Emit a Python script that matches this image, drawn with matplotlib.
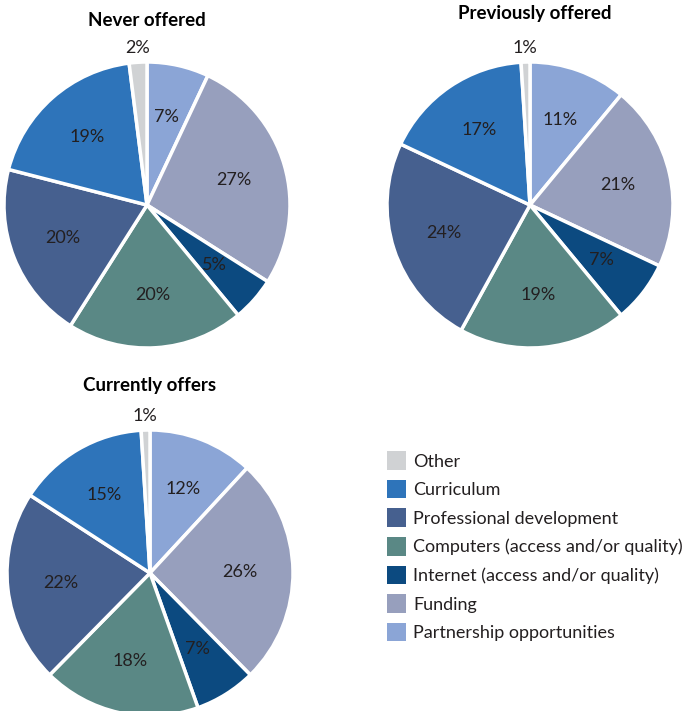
import matplotlib.pyplot as plt
import matplotlib.patches as mpatches
import numpy as np

# clockwise from 12 o'clock
categories = ['Partnership opportunities', 'Funding', 'Internet (access and/or quality)',
              'Computers (access and/or quality)', 'Professional development', 'Curriculum', 'Other']
colors = ['#8ba5d6', '#979fbd', '#0c4a80', '#5a8885', '#46608f', '#2e74ba', '#d0d2d4']

never_offered = [7, 27, 5, 20, 20, 19, 2]
previously_offered = [11, 21, 7, 19, 24, 17, 1]
currently_offers = [12, 26, 7, 18, 22, 15, 1]

legend_order = ['Other', 'Curriculum', 'Professional development',
                'Computers (access and/or quality)', 'Internet (access and/or quality)',
                'Funding', 'Partnership opportunities']

plt.rcParams['font.family'] = ['Lato', 'DejaVu Sans']

W, H = 686, 711
fig = plt.figure(figsize=(W / 100, H / 100), dpi=100)
ax = fig.add_axes([0, 0, 1, 1])

R = 143


def draw_pie(vals, cx, cy, title, tx, ty):
    wedges, _ = ax.pie(vals, colors=colors, startangle=90, counterclock=False,
                       center=(cx, H - cy), radius=R, frame=True,
                       wedgeprops=dict(edgecolor='white', linewidth=2.5))
    for w, v in zip(wedges, vals):
        ang = np.deg2rad((w.theta1 + w.theta2) / 2)
        d = 0.63 * R if v > 2 else 1.1 * R
        ax.text(cx + d * np.cos(ang), H - cy + d * np.sin(ang), f'{v}%',
                ha='center', va='center', fontsize=13, color='#231f20')
    ax.text(tx, H - ty, title, ha='center', va='center', fontsize=13.5,
            fontweight='bold', color='#000000')


draw_pie(never_offered, 147, 205, 'Never offered', 147, 21)
draw_pie(previously_offered, 530, 205, 'Previously offered', 535, 14)
draw_pie(currently_offers, 150, 573, 'Currently offers', 150, 385)

ax.set_xlim(0, W)
ax.set_ylim(0, H)
ax.set_aspect('equal')
ax.axis('off')

handles = [mpatches.Patch(facecolor=colors[categories.index(c)], edgecolor='none')
           for c in legend_order]
fig.legend(handles, legend_order, loc='upper left', bbox_to_anchor=(380 / W, 1 - 444 / H),
           frameon=False, fontsize=13, handlelength=1.05, handleheight=1.2,
           handletextpad=0.4, labelspacing=0.56, borderaxespad=0, labelcolor='#231f20')

fig.savefig('out.png', dpi=100)
